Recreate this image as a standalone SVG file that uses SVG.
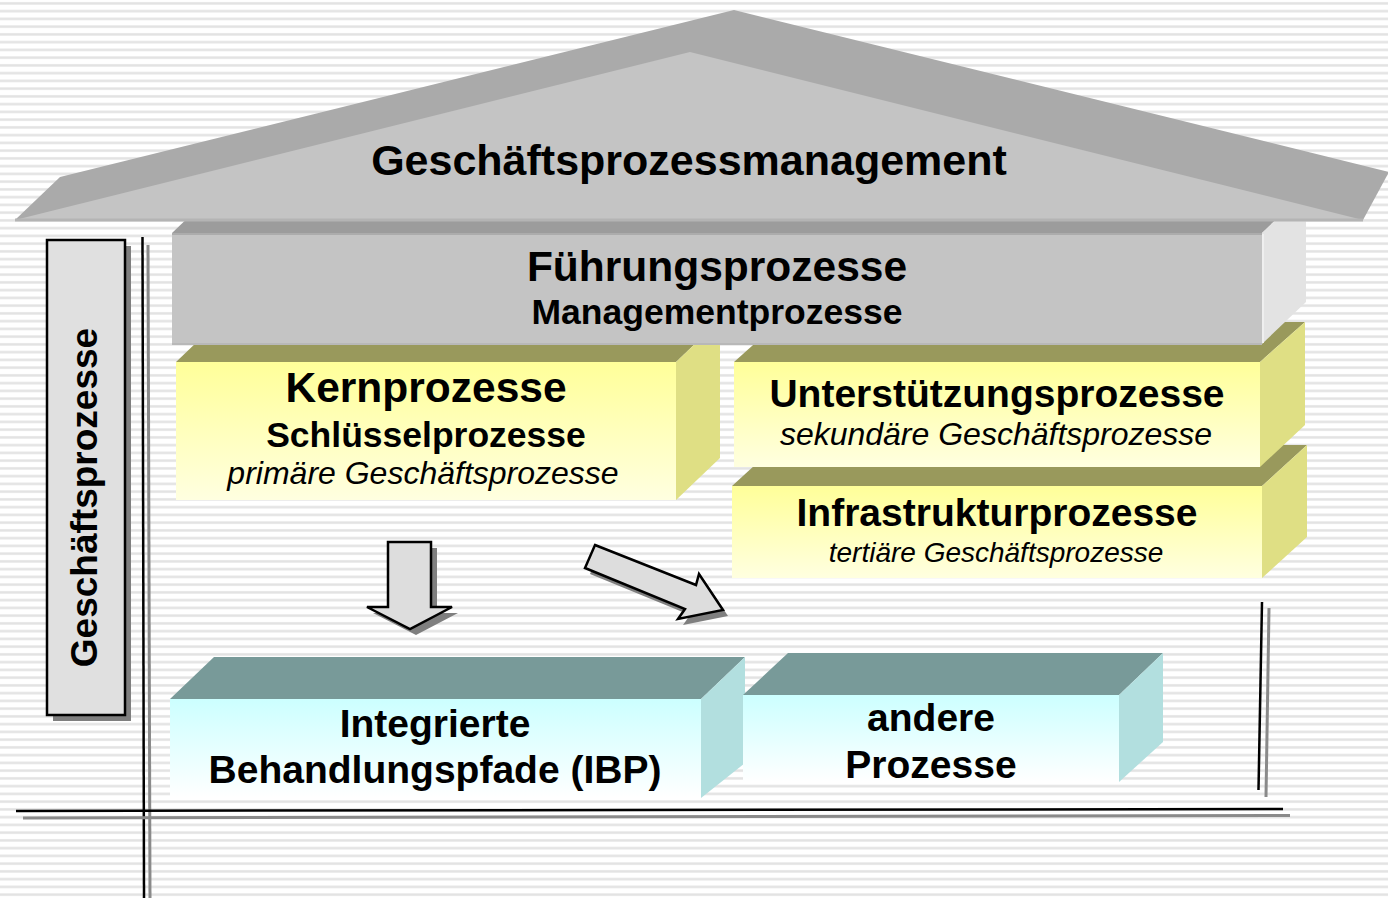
<svg xmlns="http://www.w3.org/2000/svg" width="1388" height="898" viewBox="0 0 1388 898">
<defs>
<pattern id="stripes" x="0" y="0" width="10" height="7.75" patternUnits="userSpaceOnUse">
<rect width="10" height="7.75" fill="#ffffff"/>
<rect y="2.2" width="10" height="2.4" fill="#e2e2e2"/>
</pattern>
<linearGradient id="gYellow" x1="0" y1="0" x2="0" y2="1">
<stop offset="0" stop-color="#ffff99"/>
<stop offset="1" stop-color="#ffffe0"/>
</linearGradient>
<linearGradient id="gCyan" x1="0" y1="0" x2="0" y2="1">
<stop offset="0" stop-color="#ccffff"/>
<stop offset="1" stop-color="#ffffff"/>
</linearGradient>
<style>
.tb{font-family:"Liberation Sans",Arial,Helvetica,sans-serif;font-weight:bold;text-anchor:middle;fill:#000}
.ti{font-family:"Liberation Sans",Arial,Helvetica,sans-serif;font-style:italic;text-anchor:middle;fill:#000}
.yTop{fill:#99995c}
.yFront{fill:url(#gYellow)}
.ySide{fill:#dfdf84}
.cTop{fill:#789a99}
.cFront{fill:url(#gCyan)}
.cSide{fill:#b2dfdf}
.arrow{fill:#dddddd;stroke:#000;stroke-width:2.5;stroke-linejoin:miter}
.shadow{fill:#7f7f7f}
.lb{stroke:#000;stroke-width:2.5;fill:none}
.lg{stroke:#8a8a8a;stroke-width:3;fill:none}
</style>
</defs>
<rect width="1388" height="898" fill="url(#stripes)"/>

<g id="frame">
<line class="lb" x1="142.5" y1="237" x2="144" y2="898"/>
<line class="lg" x1="148" y1="245" x2="150" y2="898"/>
<line class="lb" x1="16" y1="811" x2="1283" y2="809"/>
<line class="lg" x1="23" y1="818" x2="1290" y2="815.5"/>
<line class="lb" x1="1262" y1="602" x2="1258.5" y2="790"/>
<line class="lg" x1="1269" y1="608" x2="1266" y2="797"/>
</g>

<g id="infrastruktur">
<polygon class="yTop" points="732,486 777,445 1307,445 1262,486"/>
<polygon class="ySide" points="1262,486 1307,445 1307,537 1262,578"/>
<rect class="yFront" x="732" y="486" width="530" height="92"/>
<text class="tb" x="997" y="526" font-size="39">Infrastrukturprozesse</text>
<text class="ti" x="996" y="562" font-size="28">tertiäre Geschäftsprozesse</text>
</g>

<g id="unterstuetzung">
<polygon class="yTop" points="734,362 779,322 1305,322 1260,362"/>
<polygon class="ySide" points="1260,362 1305,322 1305,425 1260,467"/>
<rect class="yFront" x="734" y="362" width="526" height="105"/>
<text class="tb" x="997" y="407" font-size="39">Unterstützungsprozesse</text>
<text class="ti" x="996" y="445" font-size="32">sekundäre Geschäftsprozesse</text>
</g>

<g id="kern">
<polygon class="yTop" points="176,362 220,320 720,320 676,362"/>
<polygon class="ySide" points="676,362 720,320 720,458 676,500"/>
<rect class="yFront" x="176" y="362" width="500" height="138"/>
<text class="tb" x="426" y="402" font-size="42.5">Kernprozesse</text>
<text class="tb" x="426" y="447" font-size="35.5">Schlüsselprozesse</text>
<text class="ti" x="423" y="484" font-size="32">primäre Geschäftsprozesse</text>
</g>

<g id="fuehrung">
<polygon fill="#9c9c9c" points="172,233 216,191 1306,191 1262,233"/>
<polygon fill="#e3e3e3" points="1262,233 1306,191 1306,302 1262,344"/>
<line x1="1263" y1="234" x2="1263" y2="343" stroke="#efefef" stroke-width="2"/>
<rect x="172" y="233" width="1090" height="112" fill="#c4c4c4"/>
<line x1="172" y1="234" x2="1262" y2="234" stroke="#acacac" stroke-width="2"/>
<line x1="172" y1="344" x2="1262" y2="344" stroke="#b8b8b8" stroke-width="2"/>
<text class="tb" x="717" y="281" font-size="42.5">Führungsprozesse</text>
<text class="tb" x="717" y="324" font-size="35.5">Managementprozesse</text>
</g>

<g id="roof">
<polygon fill="#aaaaaa" points="15,220 60,177 734,10 1389,172 1363,220"/>
<polygon fill="#c4c4c4" points="15,220 690,52 1363,220"/>
<line x1="15" y1="220" x2="1363" y2="220" stroke="#b4b4b4" stroke-width="3"/>
<text class="tb" x="689" y="175" font-size="43">Geschäftsprozessmanagement</text>
</g>

<g id="label-geschaeftsprozesse">
<rect class="shadow" x="53" y="246" width="78" height="475"/>
<rect x="47" y="240" width="78" height="475" fill="#e0e0e0" stroke="#000" stroke-width="2.5"/>
<text class="tb" transform="translate(97,497.5) rotate(-90)" x="0" y="0" font-size="37">Geschäftsprozesse</text>
</g>

<g id="ibp">
<polygon class="cTop" points="170,699 214,657 745,657 701,699"/>
<polygon class="cSide" points="701,699 745,657 745,763 701,798"/>
<rect class="cFront" x="170" y="699" width="531" height="99"/>
<text class="tb" x="435" y="737" font-size="39">Integrierte</text>
<text class="tb" x="435" y="783" font-size="39">Behandlungspfade (IBP)</text>
</g>

<g id="andere">
<polygon class="cTop" points="743,695 788,653 1163,653 1119,695"/>
<polygon class="cSide" points="1119,695 1163,653 1163,742 1119,782"/>
<rect class="cFront" x="743" y="695" width="376" height="87"/>
<text class="tb" x="931" y="731" font-size="39">andere</text>
<text class="tb" x="931" y="778" font-size="39">Prozesse</text>
</g>

<g id="connectors">
<g transform="translate(6,6)">
<polygon class="shadow" points="388,542 431,542 431,607 452,607 410,629 367,607 388,607"/>
</g>
<polygon class="arrow" points="388,542 431,542 431,607 452,607 410,629 367,607 388,607"/>
<g transform="translate(5,6)">
<polygon class="shadow" points="595,545 696,585 699,574 723,610 678,619 685,609 585,568"/>
</g>
<polygon class="arrow" points="595,545 696,585 699,574 723,610 678,619 685,609 585,568"/>
</g>
</svg>
